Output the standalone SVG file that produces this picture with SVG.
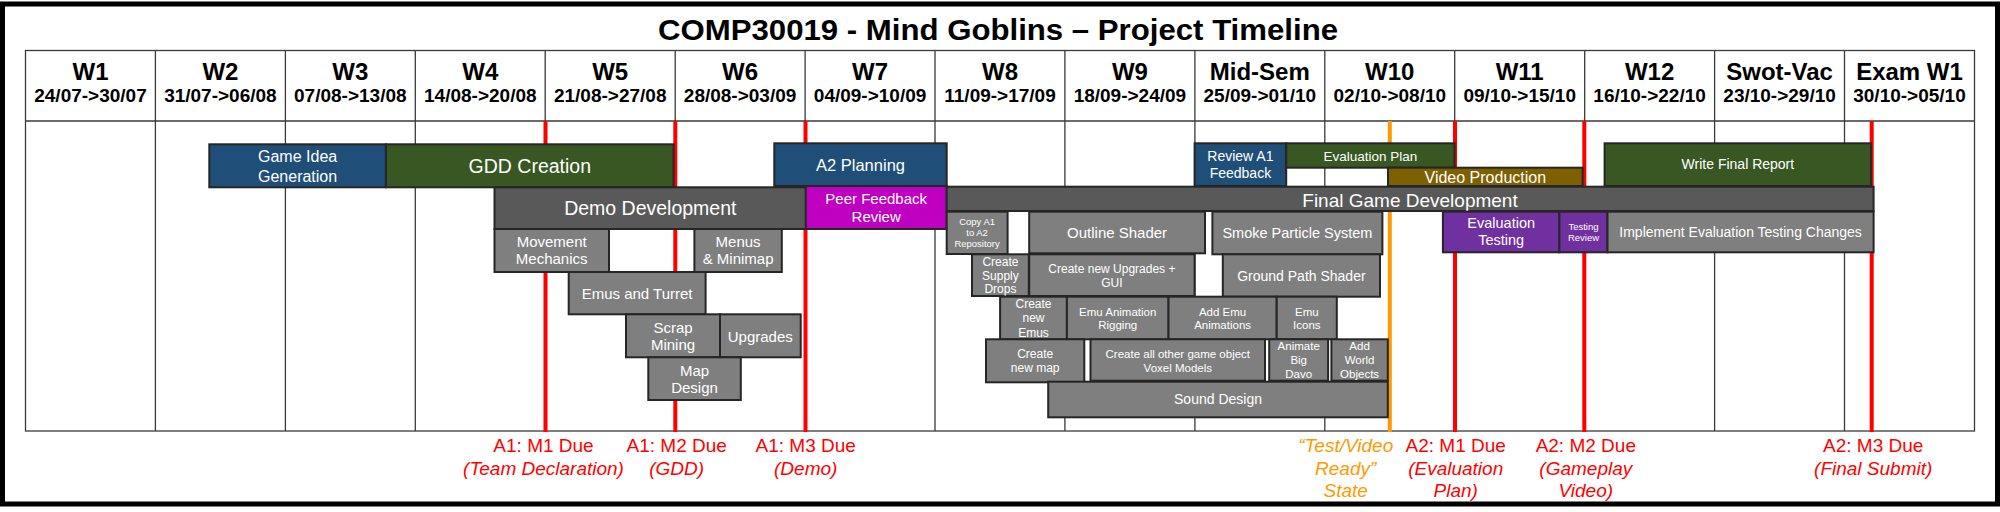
<svg xmlns="http://www.w3.org/2000/svg" width="2000" height="512" viewBox="0 0 2000 512">
<style>
text{font-family:"Liberation Sans",Arial,sans-serif;text-anchor:middle}
.title{font-size:30px;font-weight:bold;fill:#000}
.wk{font-size:24px;font-weight:bold;fill:#000}
.dt{font-size:19px;font-weight:bold;fill:#000}
.grid{stroke:#3a3a3a;stroke-width:1.3;fill:none}
.due{stroke:#FF0000;stroke-width:4}
.ready{stroke:#FF9900;stroke-width:4}
.box rect{stroke:#262626;stroke-width:2}
.box text{fill:#fff}
.blue rect{fill:#1F4E79}
.green rect{fill:#385723}
.dark rect{fill:#595959}
.gray rect{fill:#7F7F7F}
.mag rect{fill:#C000C0}
.brown rect{fill:#7F6000}
.purple rect{fill:#7030A0}
.lbl{font-size:19px;fill:#FF0000}
.lbl .it{font-style:italic}
.lblo{font-size:19px;fill:#FF9900;font-style:italic}
</style>
<rect x="2.5" y="4" width="1995" height="500" fill="#fff" stroke="#000" stroke-width="5"/>
<text class="title" x="658" y="40" style="text-anchor:start" textLength="680" lengthAdjust="spacingAndGlyphs">COMP30019 - Mind Goblins – Project Timeline</text>
<g id="grid">
<rect class="grid" x="25.5" y="50.5" width="1949" height="380.5"/>
<line class="grid" x1="25.5" y1="121" x2="1974.5" y2="121" stroke-width="1.8"/>
<path class="grid" d="M155.4 50.5V431M285.4 50.5V431M415.3 50.5V431M545.2 50.5V431M675.2 50.5V431M805.1 50.5V431M935 50.5V431M1064.9 50.5V431M1194.9 50.5V431M1324.8 50.5V431M1454.7 50.5V431M1584.7 50.5V431M1714.6 50.5V431M1844.5 50.5V431"/>
</g>
<g id="header">
<text class="wk" x="90.5" y="80">W1</text><text class="dt" x="90.5" y="101.5">24/07-&gt;30/07</text>
<text class="wk" x="220.4" y="80">W2</text><text class="dt" x="220.4" y="101.5">31/07-&gt;06/08</text>
<text class="wk" x="350.3" y="80">W3</text><text class="dt" x="350.3" y="101.5">07/08-&gt;13/08</text>
<text class="wk" x="480.3" y="80">W4</text><text class="dt" x="480.3" y="101.5">14/08-&gt;20/08</text>
<text class="wk" x="610.2" y="80">W5</text><text class="dt" x="610.2" y="101.5">21/08-&gt;27/08</text>
<text class="wk" x="740.1" y="80">W6</text><text class="dt" x="740.1" y="101.5">28/08-&gt;03/09</text>
<text class="wk" x="870.1" y="80">W7</text><text class="dt" x="870.1" y="101.5">04/09-&gt;10/09</text>
<text class="wk" x="1000" y="80">W8</text><text class="dt" x="1000" y="101.5">11/09-&gt;17/09</text>
<text class="wk" x="1129.9" y="80">W9</text><text class="dt" x="1129.9" y="101.5">18/09-&gt;24/09</text>
<text class="wk" x="1259.8" y="80">Mid-Sem</text><text class="dt" x="1259.8" y="101.5">25/09-&gt;01/10</text>
<text class="wk" x="1389.8" y="80">W10</text><text class="dt" x="1389.8" y="101.5">02/10-&gt;08/10</text>
<text class="wk" x="1519.7" y="80">W11</text><text class="dt" x="1519.7" y="101.5">09/10-&gt;15/10</text>
<text class="wk" x="1649.6" y="80">W12</text><text class="dt" x="1649.6" y="101.5">16/10-&gt;22/10</text>
<text class="wk" x="1779.6" y="80">Swot-Vac</text><text class="dt" x="1779.6" y="101.5">23/10-&gt;29/10</text>
<text class="wk" x="1909.5" y="80">Exam W1</text><text class="dt" x="1909.5" y="101.5">30/10-&gt;05/10</text>
</g>
<g id="connectors">
<line class="due" x1="545.5" y1="121" x2="545.5" y2="432"/>
<line class="due" x1="675.3" y1="121" x2="675.3" y2="432"/>
<line class="due" x1="805.5" y1="121" x2="805.5" y2="432"/>
<line class="ready" x1="1389.8" y1="121" x2="1389.8" y2="432"/>
<line class="due" x1="1455" y1="121" x2="1455" y2="432"/>
<line class="due" x1="1584.3" y1="121" x2="1584.3" y2="432"/>
<line class="due" x1="1871.7" y1="121" x2="1871.7" y2="432"/>
</g>
<g id="n-game-idea" class="box blue"><rect x="209.3" y="144.3" width="176.6" height="43"/><text x="297.6" y="162.3" font-size="16">Game Idea</text><text x="297.6" y="181.7" font-size="16">Generation</text></g>
<g id="n-gdd" class="box green"><rect x="386" y="144.3" width="287.6" height="43"/><text x="529.8" y="173.3" font-size="19.5">GDD Creation</text></g>
<g id="n-demo" class="box dark"><rect x="494.5" y="187.3" width="311.5" height="41.7"/><text x="650.3" y="215" font-size="19.5">Demo Development</text></g>
<g id="n-movement" class="box gray"><rect x="494.5" y="229" width="114.5" height="43"/><text x="551.7" y="247.3" font-size="15">Movement</text><text x="551.7" y="264.3" font-size="15">Mechanics</text></g>
<g id="n-menus" class="box gray"><rect x="694.4" y="229" width="87.4" height="43"/><text x="738.1" y="247.3" font-size="15">Menus</text><text x="738.1" y="264.3" font-size="15">&amp; Minimap</text></g>
<g id="n-emus-turret" class="box gray"><rect x="568.7" y="272" width="136.9" height="42.3"/><text x="637.1" y="299" font-size="15">Emus and Turret</text></g>
<g id="n-scrap" class="box gray"><rect x="626" y="314.3" width="94" height="43"/><text x="673" y="333.3" font-size="15">Scrap</text><text x="673" y="350" font-size="15">Mining</text></g>
<g id="n-upgrades" class="box gray"><rect x="720" y="314.3" width="80.7" height="43"/><text x="760.3" y="341.7" font-size="15">Upgrades</text></g>
<g id="n-map" class="box gray"><rect x="648.3" y="357.3" width="92.5" height="42.7"/><text x="694.5" y="375.7" font-size="15">Map</text><text x="694.5" y="393.3" font-size="15">Design</text></g>
<g id="n-a2-planning" class="box blue"><rect x="774.3" y="143.3" width="172.4" height="42.7"/><text x="860.5" y="170.7" font-size="16.5">A2 Planning</text></g>
<g id="n-peer" class="box mag"><rect x="805.7" y="186" width="141" height="43"/><text x="876.2" y="204" font-size="15">Peer Feedback</text><text x="876.2" y="221.7" font-size="15">Review</text></g>
<g id="n-final-dev" class="box dark"><rect x="946.7" y="186.7" width="926.9" height="24.3"/><text x="1410" y="206.7" font-size="19">Final Game Development</text></g>
<g id="n-copy" class="box gray"><rect x="946.7" y="211.7" width="60.9" height="42.3"/><text x="977.1" y="225" font-size="9.5">Copy A1</text><text x="977.1" y="236" font-size="9.5">to A2</text><text x="977.1" y="247.3" font-size="9.5">Repository</text></g>
<g id="n-outline" class="box gray"><rect x="1029.2" y="211.7" width="175.8" height="41.6"/><text x="1117.1" y="238.3" font-size="15">Outline Shader</text></g>
<g id="n-smoke" class="box gray"><rect x="1212.4" y="211.7" width="170" height="42.6"/><text x="1297.4" y="238.3" font-size="14.5">Smoke Particle System</text></g>
<g id="n-supply" class="box gray"><rect x="972" y="254.3" width="56.8" height="41.7"/><text x="1000.4" y="266" font-size="12">Create</text><text x="1000.4" y="280" font-size="12">Supply</text><text x="1000.4" y="293.3" font-size="12">Drops</text></g>
<g id="n-new-upgrades" class="box gray"><rect x="1029.2" y="254.3" width="165.4" height="41.7"/><text x="1111.9" y="272.7" font-size="12">Create new Upgrades +</text><text x="1111.9" y="286.7" font-size="12">GUI</text></g>
<g id="n-ground" class="box gray"><rect x="1222.8" y="254.3" width="157.2" height="42.4"/><text x="1301.4" y="280.7" font-size="14">Ground Path Shader</text></g>
<g id="n-new-emus" class="box gray"><rect x="1000.1" y="296.7" width="66.8" height="42.6"/><text x="1033.5" y="307.7" font-size="12">Create</text><text x="1033.5" y="322.3" font-size="12">new</text><text x="1033.5" y="336.7" font-size="12">Emus</text></g>
<g id="n-rigging" class="box gray"><rect x="1066.9" y="296.7" width="101.6" height="42.6"/><text x="1117.7" y="315.7" font-size="11.5">Emu Animation</text><text x="1117.7" y="329.3" font-size="11.5">Rigging</text></g>
<g id="n-add-anim" class="box gray"><rect x="1168.5" y="296.7" width="108.2" height="42.6"/><text x="1222.6" y="315.7" font-size="11.5">Add Emu</text><text x="1222.6" y="329.3" font-size="11.5">Animations</text></g>
<g id="n-emu-icons" class="box gray"><rect x="1276.7" y="296.7" width="60.1" height="42.6"/><text x="1306.8" y="315.7" font-size="11.5">Emu</text><text x="1306.8" y="329.3" font-size="11.5">Icons</text></g>
<g id="n-new-map" class="box gray"><rect x="986" y="339.3" width="98.3" height="43"/><text x="1035.2" y="357.7" font-size="12">Create</text><text x="1035.2" y="372.3" font-size="12">new map</text></g>
<g id="n-voxel" class="box gray"><rect x="1090.5" y="339.3" width="174.5" height="41.4"/><text x="1177.8" y="357.7" font-size="11.5">Create all other game object</text><text x="1177.8" y="371.7" font-size="11.5">Voxel Models</text></g>
<g id="n-davo" class="box gray"><rect x="1269.2" y="339.3" width="58.9" height="41.4"/><text x="1298.7" y="350" font-size="11.5">Animate</text><text x="1298.7" y="364.3" font-size="11.5">Big</text><text x="1298.7" y="378.3" font-size="11.5">Davo</text></g>
<g id="n-world" class="box gray"><rect x="1331.4" y="339.3" width="56.4" height="41.4"/><text x="1359.6" y="350" font-size="11.5">Add</text><text x="1359.6" y="364.3" font-size="11.5">World</text><text x="1359.6" y="378.3" font-size="11.5">Objects</text></g>
<g id="n-sound" class="box gray"><rect x="1048.2" y="381.7" width="339.6" height="35.6"/><text x="1218" y="404" font-size="14">Sound Design</text></g>
<g id="n-review-a1" class="box blue"><rect x="1194.6" y="143.3" width="91.6" height="42.7"/><text x="1240.4" y="160.7" font-size="14">Review A1</text><text x="1240.4" y="178.3" font-size="14">Feedback</text></g>
<g id="n-eval-plan" class="box green"><rect x="1286.2" y="143.3" width="168.3" height="24.4"/><text x="1370.4" y="160.7" font-size="13.5">Evaluation Plan</text></g>
<g id="n-video" class="box brown"><rect x="1388" y="167.7" width="194.6" height="18.3"/><text x="1485.3" y="182.7" font-size="16">Video Production</text></g>
<g id="n-final-report" class="box green"><rect x="1604.6" y="143.3" width="266.5" height="42.7"/><text x="1737.9" y="169.3" font-size="14">Write Final Report</text></g>
<g id="n-eval-testing" class="box purple"><rect x="1442.9" y="211.7" width="116.5" height="40.6"/><text x="1501.2" y="228.3" font-size="14.5">Evaluation</text><text x="1501.2" y="245" font-size="14.5">Testing</text></g>
<g id="n-testing-review" class="box purple"><rect x="1559.4" y="211.7" width="48.1" height="40.6"/><text x="1583.5" y="230" font-size="9.5">Testing</text><text x="1583.5" y="240.7" font-size="9.5">Review</text></g>
<g id="n-implement" class="box gray"><rect x="1607.5" y="211.7" width="266.1" height="40.6"/><text x="1740.6" y="236.7" font-size="14">Implement Evaluation Testing Changes</text></g>
<g id="labels">
<text class="lbl" x="543.5" y="452">A1: M1 Due</text><text class="lbl it" x="543.5" y="475" font-style="italic">(Team Declaration)</text>
<text class="lbl" x="676.7" y="452">A1: M2 Due</text><text class="lbl" x="676.7" y="475" font-style="italic">(GDD)</text>
<text class="lbl" x="805.7" y="452">A1: M3 Due</text><text class="lbl" x="805.7" y="475" font-style="italic">(Demo)</text>
<text class="lblo" x="1345.7" y="452">“Test/Video</text><text class="lblo" x="1345.7" y="475">Ready”</text><text class="lblo" x="1345.7" y="497">State</text>
<text class="lbl" x="1455.7" y="452">A2: M1 Due</text><text class="lbl" x="1455.7" y="475" font-style="italic">(Evaluation</text><text class="lbl" x="1455.7" y="497" font-style="italic">Plan)</text>
<text class="lbl" x="1585.8" y="452">A2: M2 Due</text><text class="lbl" x="1585.8" y="475" font-style="italic">(Gameplay</text><text class="lbl" x="1585.8" y="497" font-style="italic">Video)</text>
<text class="lbl" x="1873.2" y="452">A2: M3 Due</text><text class="lbl" x="1873.2" y="475" font-style="italic">(Final Submit)</text>
</g>
</svg>
